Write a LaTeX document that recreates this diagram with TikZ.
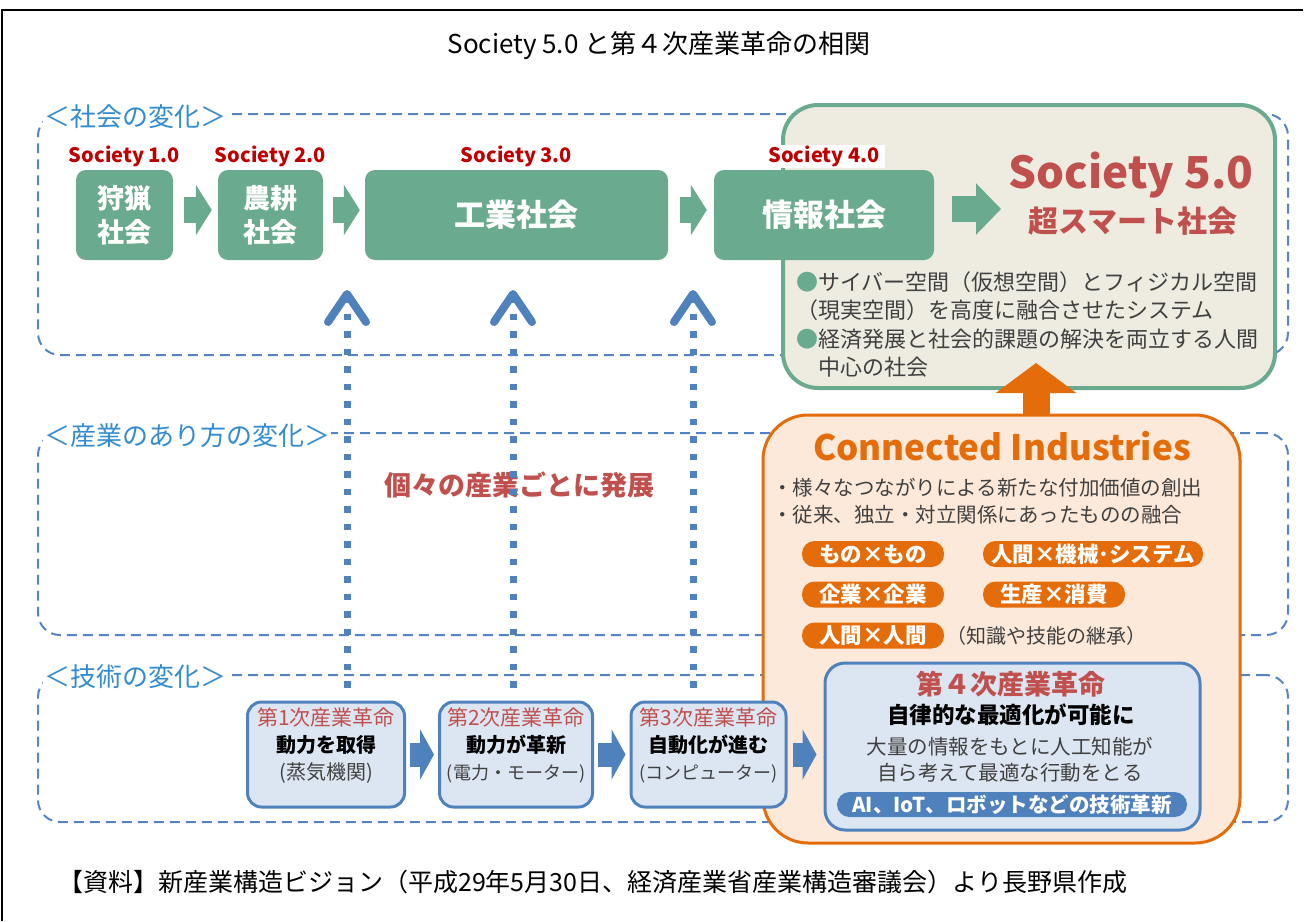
\documentclass[tikz,border=0pt]{standalone}
\usepackage{fontspec}
\setmainfont{Noto Sans CJK JP}
\usepackage{tikz}
\usetikzlibrary{positioning,arrows.meta}

\definecolor{socgreen}{RGB}{106,170,142}
\definecolor{beige}{RGB}{238,236,225}
\definecolor{socred}{RGB}{192,0,0}
\definecolor{titlered}{RGB}{192,80,77}
\definecolor{connorange}{RGB}{228,108,10}
\definecolor{connfill}{RGB}{253,233,217}
\definecolor{techblue}{RGB}{79,129,189}
\definecolor{techfill}{RGB}{220,230,242}
\definecolor{dashblue}{RGB}{84,132,198}
\definecolor{labblue}{RGB}{52,140,208}
\definecolor{textgray}{RGB}{64,64,64}

\tikzset{
	region/.style={rectangle, draw=dashblue, line width=2pt, dash pattern=on 10pt off 6pt, rounded corners=22pt, minimum width=1250pt, inner sep=0pt},
	regionlab/.style={anchor=west, text=labblue, fill=white, inner sep=1pt, font=\fontsize{26}{28}\selectfont},
	socbox/.style={rectangle, rounded corners=10pt, fill=socgreen, text=white, align=center, minimum height=90pt, inner sep=0pt, font=\bfseries\fontsize{27}{34}\selectfont},
	soclab/.style={text=socred, inner sep=1pt, font=\bfseries\fontsize{20}{24}\selectfont},
	greenarrow/.style={draw=socgreen, line width=26pt, -{Triangle[length=#1,width=50pt]}},
	greenarrow/.default=16pt,
	bluearrow/.style={draw=techblue, line width=24pt, -{Triangle[length=14pt,width=50pt]}},
	dotarrow/.style={draw=techblue, line width=7pt, dash pattern=on 6.5pt off 11pt, -{Straight Barb[length=28pt,width=38pt,line width=8pt,round]}},
	pill/.style={rectangle, fill=connorange, text=white, rounded corners=12.5pt, minimum height=26pt, minimum width=142pt, inner sep=0pt, font=\bfseries\fontsize{21.5}{22}\selectfont},
	techbox/.style={rectangle, fill=techfill, draw=techblue, line width=3pt, rounded corners=14pt, inner sep=0pt},
	revtext/.style={align=center, font=\fontsize{21}{27}\selectfont}
}

\begin{document}
\begin{tikzpicture}[x=1pt, y=-1pt]
	\useasboundingbox (0,0) rectangle (1305,921);
	\draw[line width=1.5pt] (2,921) -- (2,10) -- (1303,10);

	\node (title) [font=\fontsize{26}{28}\selectfont] at (659,46) {Society 5.0 と第４次産業革命の相関};

	\node (socreg) [region, minimum height=241pt] at (663,234.5) {};
	\node (indreg) [region, minimum height=202pt] at (663,534) {};
	\node (techreg) [region, minimum height=147pt] at (663,748.5) {};
	\node (socreglab) [regionlab] at ([xshift=6pt, yshift=-4pt]socreg.north west) {＜社会の変化＞};
	\node (indreglab) [regionlab] at ([xshift=6pt, yshift=-4pt]indreg.north west) {＜産業のあり方の変化＞};
	\node (techreglab) [regionlab] at ([xshift=6pt, yshift=-3pt]techreg.north west) {＜技術の変化＞};

	\node (soc5) [rectangle, fill=beige, draw=socgreen, line width=4pt, rounded corners=35pt, minimum width=492pt, minimum height=283pt] at (1029,246.5) {};
	\node (soc5title) [text=titlered, font=\bfseries\fontsize{44}{48}\selectfont] at (1131,175) {Society 5.0};
	\node (soc5sub) [text=titlered, font=\bfseries\fontsize{30}{32}\selectfont] at (1133,221) {超スマート社会};
	\node (soc5text) [anchor=north west, align=left, text=textgray, inner sep=0pt, font=\fontsize{22}{28.5}\selectfont] at (796,271) {{\color{socgreen}●}サイバー空間（仮想空間）とフィジカル空間\\（現実空間）を高度に融合させたシステム\\{\color{socgreen}●}経済発展と社会的課題の解決を両立する人間\\\hspace{1em}中心の社会};

	\node (conn) [rectangle, fill=connfill, draw=connorange, line width=3pt, rounded corners=45pt, minimum width=477pt, minimum height=428pt] at (1001.5,629) {};
	\coordinate (uptip) at (1036,363);
	\draw[draw=connorange, line width=27pt, -{Triangle[length=30pt,width=79pt]}] (conn.north -| uptip) -- (uptip);
	\node (conntitle) [text=connorange, font=\bfseries\fontsize{35}{38}\selectfont] at (1002,446) {Connected Industries};
	\node (conntext) [anchor=north west, align=left, text=textgray, inner sep=0pt, font=\fontsize{20.5}{26.5}\selectfont] at (772,478) {・様々なつながりによる新たな付加価値の創出\\・従来、独立・対立関係にあったものの融合};
	\node (thing) [pill] at (873,554) {もの×もの};
	\node (human) [pill, minimum width=220pt] at (1093,554) {人間×機械･システム};
	\node (firm) [pill] at (873,594.5) {企業×企業};
	\node (prod) [pill] at (1054,594.5) {生産×消費};
	\node (people) [pill] at (873,635.5) {人間×人間};
	\node (skill) [right=2pt of people, text=textgray, inner sep=0pt, font=\fontsize{20}{22}\selectfont] {（知識や技能の継承）};

	\node (hunt) [socbox, minimum width=97pt] at (124.5,215) {狩猟\\社会};
	\node (farm) [socbox, minimum width=105pt] at (270.5,215) {農耕\\社会};
	\node (ind) [socbox, minimum width=303pt, font=\bfseries\fontsize{31}{34}\selectfont] at (516.5,215) {工業社会};
	\node (info) [socbox, minimum width=220pt, font=\bfseries\fontsize{31}{34}\selectfont] at (824,215) {情報社会};
	\node (s1) [soclab, above=2pt of hunt] {Society 1.0};
	\node (s2) [soclab, above=2pt of farm] {Society 2.0};
	\node (s3) [soclab, above=2pt of ind] {Society 3.0};
	\node (s4) [soclab, above=2pt of info, fill=white, inner xsep=5pt] {Society 4.0};

	\draw[greenarrow, shorten <=11pt, shorten >=6pt] ([yshift=5pt]hunt.east) -- ([yshift=5pt]farm.west);
	\draw[greenarrow, shorten <=10pt, shorten >=5pt] ([yshift=5pt]farm.east) -- ([yshift=5pt]ind.west);
	\draw[greenarrow, shorten <=12pt, shorten >=7pt] ([yshift=5pt]ind.east) -- ([yshift=5pt]info.west);
	\draw[greenarrow=25pt, shorten <=18pt, shorten >=4pt] ([yshift=6pt]info.east) -- ([yshift=6pt]info.east -| soc5title.west);

	\node (growth) [text=titlered, font=\bfseries\fontsize{27}{30}\selectfont] at (519,485) {個々の産業ごとに発展};

	\node (rev1) [techbox, minimum width=157pt, minimum height=105pt] at (326,754.5) {};
	\node (rev2) [techbox, minimum width=153pt, minimum height=105pt] at (516,754.5) {};
	\node (rev3) [techbox, minimum width=155pt, minimum height=105pt] at (708.5,754.5) {};
	\node (rev1text) [revtext] at ([yshift=9pt]rev1.center) {{\color{titlered}第1次産業革命}\\{\bfseries\fontsize{20}{27}\selectfont 動力を取得}\\{\color{textgray}\fontsize{20}{27}\selectfont (蒸気機関)}};
	\node (rev2text) [revtext] at ([yshift=9pt]rev2.center) {{\color{titlered}第2次産業革命}\\{\bfseries\fontsize{20}{27}\selectfont 動力が革新}\\{\color{textgray}\fontsize{18}{27}\selectfont (電力・モーター)}};
	\node (rev3text) [revtext] at ([yshift=9pt]rev3.center) {{\color{titlered}第3次産業革命}\\{\bfseries\fontsize{20}{27}\selectfont 自動化が進む}\\{\color{textgray}\fontsize{18}{27}\selectfont (コンピューター)}};

	\node (rev4) [techbox, rounded corners=20pt, minimum width=375pt, minimum height=167pt] at (1012.5,746.5) {};
	\node (rev4title) [text=titlered, font=\bfseries\fontsize{27}{28}\selectfont] at (1011,684) {第４次産業革命};
	\node (rev4sub) [font=\bfseries\fontsize{22.5}{24}\selectfont] at (1011,715) {自律的な最適化が可能に};
	\node (rev4text) [align=center, text=textgray, font=\fontsize{20.5}{25.5}\selectfont] at (1010,759.5) {大量の情報をもとに人工知能が\\自ら考えて最適な行動をとる};
	\node (rev4pill) [rectangle, fill=techblue, text=white, rounded corners=12.5pt, minimum width=350pt, minimum height=25pt, inner sep=0pt, font=\bfseries\fontsize{20.5}{22}\selectfont] at (1012,804.5) {AI、IoT、ロボットなどの技術革新};

	\draw[bluearrow, shorten <=4pt, shorten >=4pt] (rev1) -- (rev2);
	\draw[bluearrow, shorten <=4pt, shorten >=4pt] (rev2) -- (rev3);
	\draw[bluearrow, shorten <=5pt, shorten >=7pt] (rev3.east) -- (rev3.east -| rev4.west);

	\coordinate (tip1) at (347,290);
	\coordinate (tip2) at (513,290);
	\coordinate (tip3) at (693,290);
	\draw[dotarrow, shorten <=13pt] (tip1 |- rev1.north) -- (tip1);
	\draw[dotarrow, shorten <=13pt] (tip2 |- rev2.north) -- (tip2);
	\draw[dotarrow, shorten <=13pt] (tip3 |- rev3.north) -- (tip3);

	\node (source) [anchor=west, inner sep=0pt, font=\fontsize{25}{27}\selectfont] at (58,882) {【資料】新産業構造ビジョン（平成29年5月30日、経済産業省産業構造審議会）より長野県作成};
\end{tikzpicture}
\end{document}
